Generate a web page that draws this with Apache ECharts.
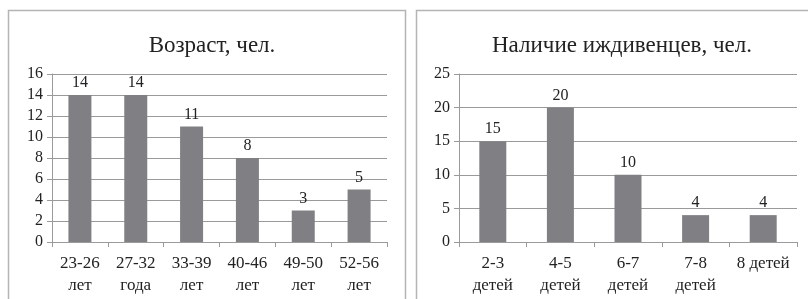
<!DOCTYPE html>
<html><head><meta charset="utf-8">
<script src="https://cdn.jsdelivr.net/npm/echarts@6/dist/echarts.min.js"></script>
<style>html,body{margin:0;padding:0;background:#fff}#c{width:808px;height:299px}</style>
</head><body><div id="c"></div>
<script>
const ageCategories = ['23-26\nлет', '27-32\nгода', '33-39\nлет', '40-46\nлет', '49-50\nлет', '52-56\nлет'];
const ageValues = [14, 14, 11, 8, 3, 5];
const depCategories = ['2-3\nдетей', '4-5\nдетей', '6-7\nдетей', '7-8\nдетей', '8 детей'];
const depValues = [15, 20, 10, 4, 4];
const ageTitle = 'Возраст, чел.';
const depTitle = 'Наличие иждивенцев, чел.';

const FONT = '"Liberation Serif", "DejaVu Serif", serif';
const BAR = '#808084';
const GRID = '#9a9a9a';
const chart = echarts.init(document.getElementById('c'), null, {renderer: 'canvas'});
function xAxis(idx, cats) {
  return {
    type: 'category', gridIndex: idx, data: cats,
    axisLine: {lineStyle: {color: GRID, width: 1}},
    axisTick: {show: true, length: 5, alignWithLabel: false, lineStyle: {color: GRID}},
    axisLabel: {fontFamily: FONT, fontSize: 17, color: '#222', margin: 11, lineHeight: 22, interval: 0}
  };
}
function yAxis(idx, max, interval) {
  return {
    type: 'value', gridIndex: idx, min: 0, max: max, interval: interval,
    axisLine: {show: true, lineStyle: {color: GRID, width: 1}},
    axisTick: {show: true, length: 5, lineStyle: {color: GRID}},
    axisLabel: {fontFamily: FONT, fontSize: 16, color: '#222', margin: 9},
    splitLine: {lineStyle: {color: GRID, width: 1}}
  };
}
function series(idx, vals, w) {
  return {
    type: 'bar', xAxisIndex: idx, yAxisIndex: idx, data: vals, barWidth: w,
    itemStyle: {color: BAR},
    label: {show: true, position: 'top', distance: 4, fontFamily: FONT, fontSize: 16, color: '#222'},
    silent: true, animation: false
  };
}
chart.setOption({
  animation: false,
  graphic: [
    {type: 'rect', shape: {x: 8.5, y: 10.5, width: 397, height: 300}, style: {fill: 'none', stroke: '#b4b4b4', lineWidth: 1.5}, silent: true},
    {type: 'rect', shape: {x: 416.5, y: 10.5, width: 420, height: 300}, style: {fill: 'none', stroke: '#b4b4b4', lineWidth: 1.5}, silent: true}
  ],
  title: [
    {text: ageTitle, left: 207, top: 29, textAlign: 'center', textStyle: {fontFamily: FONT, fontSize: 23, fontWeight: 'normal', color: '#222'}},
    {text: depTitle, left: 617, top: 29, textAlign: 'center', textStyle: {fontFamily: FONT, fontSize: 23, fontWeight: 'normal', color: '#222'}}
  ],
  grid: [
    {left: 52, top: 74, width: 335, height: 168, containLabel: false},
    {left: 459, top: 74, width: 338, height: 168, containLabel: false}
  ],
  xAxis: [xAxis(0, ageCategories), xAxis(1, depCategories)],
  yAxis: [yAxis(0, 16, 2), yAxis(1, 25, 5)],
  series: [series(0, ageValues, 23), series(1, depValues, 27)]
});
</script></body></html>
